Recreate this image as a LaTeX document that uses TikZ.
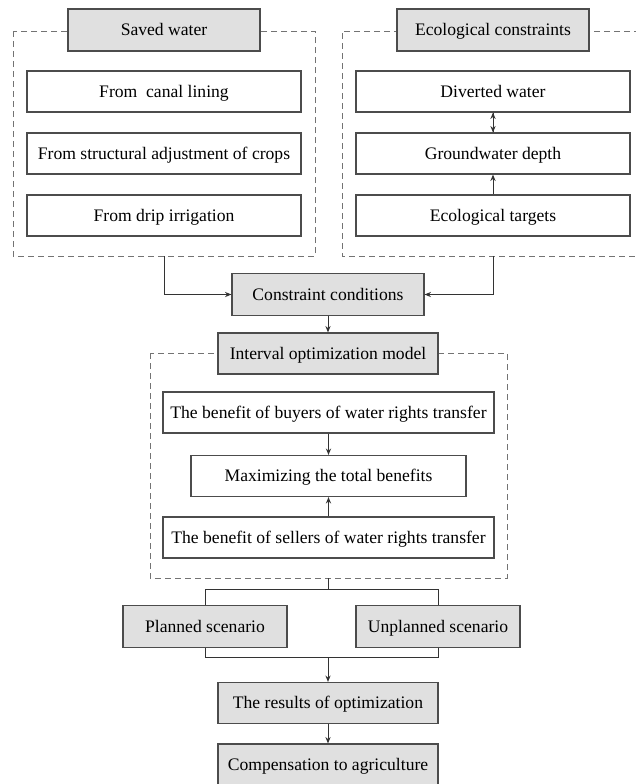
\documentclass[tikz,border=0pt]{standalone}
\usepackage{fontspec}
\setmainfont{Liberation Serif}
\usetikzlibrary{arrows.meta}
\tikzset{
	head/.style={draw=black!70, fill=black!12, line width=0.6pt, inner sep=0pt, minimum height=21pt, text height=5.8pt, text depth=0pt, font=\fontsize{8.8}{10}\selectfont},
	item/.style={draw=black!70, fill=white, line width=0.6pt, inner sep=0pt, minimum height=20.5pt, text height=5.8pt, text depth=0pt, font=\fontsize{8.8}{10}\selectfont},
	frame/.style={draw=black!55, dash pattern=on 3pt off 2pt, line width=0.5pt},
	link/.style={draw=black!80, line width=0.5pt},
	arr/.style={link, -{Stealth[length=3.2pt,width=2.6pt]}}
}
\begin{document}
\begin{tikzpicture}[x=0.5pt,y=-0.5pt]
				\useasboundingbox (0,0) rectangle (636,784);
				
				\draw[frame] (13,31) rectangle (315,256);
				\draw[frame] (640,31) -| (342,256) -- (640,256);
				\draw[frame] (150,353) rectangle (507,578);
				
				\node[head, minimum width=96pt] (saved) at (164,30) {Saved water};
				\node[item, minimum width=137pt] (canal) at (164,91.5) {From\ \ canal lining};
				\node[item, minimum width=137pt] (struct) at (164,153.5) {From structural adjustment of crops};
				\node[item, minimum width=137pt] (drip) at (164,215.5) {From drip irrigation};
				
				\node[head, minimum width=96pt] (eco) at (493,30) {Ecological constraints};
				\node[item, minimum width=137pt] (diverted) at (493,91.5) {Diverted water};
				\node[item, minimum width=137pt] (ground) at (493,153.5) {Groundwater depth};
				\node[item, minimum width=137pt] (targets) at (493,215.5) {Ecological targets};
				
				\node[head, minimum width=96pt] (constr) at (328,294.5) {Constraint conditions};
				
				\node[head, minimum width=110pt, minimum height=20.5pt] (interval) at (328,353.5) {Interval optimization model};
				\node[item, minimum width=165.5pt] (buyers) at (328.5,412.5) {The benefit of buyers of water rights transfer};
				\node[item, minimum width=137.5pt] (maxben) at (328.5,476) {Maximizing the total benefits};
				\node[item, minimum width=165.5pt] (sellers) at (328.5,537.5) {The benefit of sellers of water rights transfer};
				
				\node[head, minimum width=82pt] (planned) at (205,626.5) {Planned scenario};
				\node[head, minimum width=82pt] (unplanned) at (438,626.5) {Unplanned scenario};
				
				\node[head, minimum width=110pt, minimum height=20.5pt] (results) at (328,703) {The results of optimization};
				\node[head, minimum width=110pt] (comp) at (328,765) {Compensation to agriculture};
				
				\coordinate (lbot) at (164,256);
				\coordinate (rbot) at (493,256);
				\coordinate (ibot) at (328,578);
				\coordinate (split) at (328,589);
				\coordinate (join) at (328,657);
				
				\draw[arr] (diverted) -- (ground);
				\draw[arr] (ground) -- (diverted);
				\draw[arr] (targets) -- (ground);
				
				\draw[arr] (lbot) |- (constr.west);
				\draw[arr] (rbot) |- (constr.east);
				\draw[arr] (constr) -- (interval);
				
				\draw[arr] (buyers) -- (maxben);
				\draw[arr] (sellers) -- (maxben);
				
				\draw[link] (ibot) -- (split);
				\draw[link] (planned.north) |- (split) -| (unplanned.north);
				\draw[link] (planned.south) |- (join) -| (unplanned.south);
				\draw[arr] (join) -- (results);
				\draw[arr] (results) -- (comp);
\end{tikzpicture}
\end{document}
